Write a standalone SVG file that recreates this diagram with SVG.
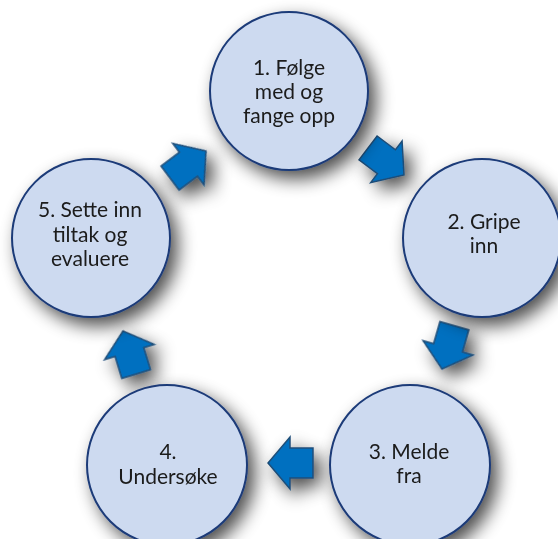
<svg xmlns="http://www.w3.org/2000/svg" width="558" height="539" viewBox="0 0 558 539">
  <defs>
    <filter id="sh" x="-40%" y="-40%" width="180%" height="180%">
      <feGaussianBlur in="SourceAlpha" stdDeviation="9"/>
      <feOffset dx="7" dy="8" result="b"/>
      <feComponentTransfer><feFuncA type="linear" slope="0.7"/></feComponentTransfer>
      <feMerge><feMergeNode/><feMergeNode in="SourceGraphic"/></feMerge>
    </filter>
    <path id="arr" d="M0,0 L-22,-26 L-22,-15 L-45,-15 L-45,15 L-22,15 L-22,26 Z"/>
  </defs>
  <style>
    .c{fill:#CDDAF0;stroke:#1B3A78;stroke-width:2}
    .t{font-family:Lato,"Liberation Sans",sans-serif;font-size:21px;fill:#1a1a1a;text-anchor:middle}
    .a{fill:#0070C0;stroke:#1F4E79;stroke-width:1.5;stroke-linejoin:miter}
  </style>
  <rect width="558" height="539" fill="#ffffff"/>
  <g id="connectors" filter="url(#sh)">
    <use href="#arr" class="a" transform="translate(404,175) rotate(37)"/>
    <use href="#arr" class="a" transform="translate(442,369) rotate(106)"/>
    <use href="#arr" class="a" transform="translate(268,463) rotate(180)"/>
    <use href="#arr" class="a" transform="translate(123,331) rotate(-107)"/>
    <use href="#arr" class="a" transform="translate(206,151) rotate(-37)"/>
  </g>
  <g id="n1" filter="url(#sh)">
    <circle class="c" cx="289" cy="91" r="79"/>
    <text class="t" x="289" y="75">1. Følge</text>
    <text class="t" x="289" y="99">med og</text>
    <text class="t" x="289" y="123">fange opp</text>
  </g>
  <g id="n2" filter="url(#sh)">
    <circle class="c" cx="482" cy="238" r="79"/>
    <text class="t" x="484" y="229">2. Gripe</text>
    <text class="t" x="484" y="253">inn</text>
  </g>
  <g id="n3" filter="url(#sh)">
    <circle class="c" cx="410" cy="465" r="80"/>
    <text class="t" x="409" y="459">3. Melde</text>
    <text class="t" x="409" y="483">fra</text>
  </g>
  <g id="n4" filter="url(#sh)">
    <circle class="c" cx="167" cy="465" r="80"/>
    <text class="t" x="168" y="459">4.</text>
    <text class="t" x="168" y="484">Undersøke</text>
  </g>
  <g id="n5" filter="url(#sh)">
    <circle class="c" cx="91" cy="238" r="79"/>
    <text class="t" x="90" y="217">5. Sette inn</text>
    <text class="t" x="90" y="242">tiltak og</text>
    <text class="t" x="90" y="266">evaluere</text>
  </g>
</svg>
